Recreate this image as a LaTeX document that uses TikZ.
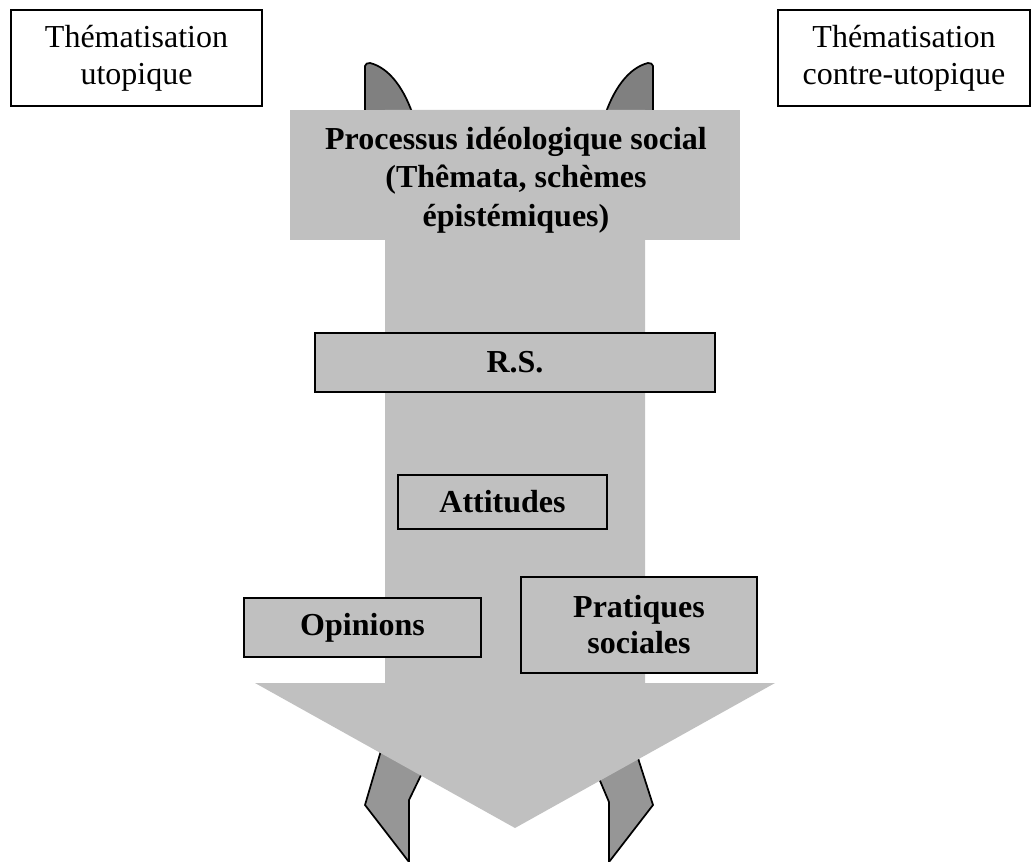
\documentclass[tikz,border=0pt]{standalone}
\usepackage{fontspec}
\setmainfont{Liberation Serif}
\definecolor{arrowfill}{HTML}{C0C0C0}
\definecolor{boxfill}{HTML}{C0C0C0}
\definecolor{earfill}{HTML}{808080}
\definecolor{legfill}{HTML}{969696}
\begin{document}
\begin{tikzpicture}[x=0.75pt,y=-0.75pt,
  topbox/.style={draw=black, line width=1.1pt, fill=white, align=center, inner sep=0pt,
    font=\fontsize{24}{28}\selectfont},
  levelbox/.style={draw=black, line width=1.4pt, fill=boxfill, align=center, inner sep=0pt,
    font=\bfseries\fontsize{24}{27}\selectfont},
  ear/.style={draw=black, line width=1.3pt, fill=earfill, line join=round},
  leg/.style={draw=black, line width=1.3pt, fill=legfill, line join=miter},
  bigarrow/.style={fill=arrowfill, draw=none}]
\useasboundingbox (0,0) rectangle (1034,862);

% curved ends showing above the header
\draw[ear] (365,130) -- (365,66) to[out=90,in=180] (370,63)
  .. controls (390,68) and (405,90) .. (414,118) -- cycle;
\draw[ear] (653,130) -- (653,66) to[out=90,in=0] (648,63)
  .. controls (628,68) and (613,90) .. (604,118) -- cycle;

% ends showing below the arrow head
\draw[leg] (390,720) -- (365,805) -- (409,862) -- (409,800) -- (438,740) -- cycle;
\draw[leg] (629,730) -- (653,805) -- (609,862) -- (609,802) -- (587,750) -- cycle;

% the large downward arrow with its wide header
\fill[bigarrow] (290,110) rectangle (740,240);
\fill[bigarrow] (385,110) -- (645,110) -- (645,683) -- (775,683) -- (515,828)
  -- (255,683) -- (385,683) -- cycle;

\node[font=\bfseries\fontsize{24}{29}\selectfont, align=center] (proc) at (516,180)
  {Processus idéologique social\\(Thêmata, schèmes\\épistémiques)};

% top labels
\node[topbox, minimum width=188.25pt, minimum height=72pt] (utop) at (136.5,58)
  {\raisebox{-3pt}{\parbox{180pt}{\centering Thématisation\\utopique}}};
\node[topbox, minimum width=189pt, minimum height=72pt] (contra) at (904,58)
  {\raisebox{-3pt}{\parbox{180pt}{\centering Thématisation\\contre-utopique}}};

% levels inside the arrow
\node[levelbox, minimum width=300pt, minimum height=44.25pt] (rs) at (515,362.5) {R.S.};
\node[levelbox, minimum width=156.75pt, minimum height=40.5pt] (att) at (502.5,502) {Attitudes};
\node[levelbox, minimum width=177.75pt, minimum height=44.25pt] (opin) at (362.5,627.5) {Opinions};
\node[levelbox, minimum width=177pt, minimum height=72pt] (prat) at (639,625) {Pratiques\\sociales};
\end{tikzpicture}
\end{document}
